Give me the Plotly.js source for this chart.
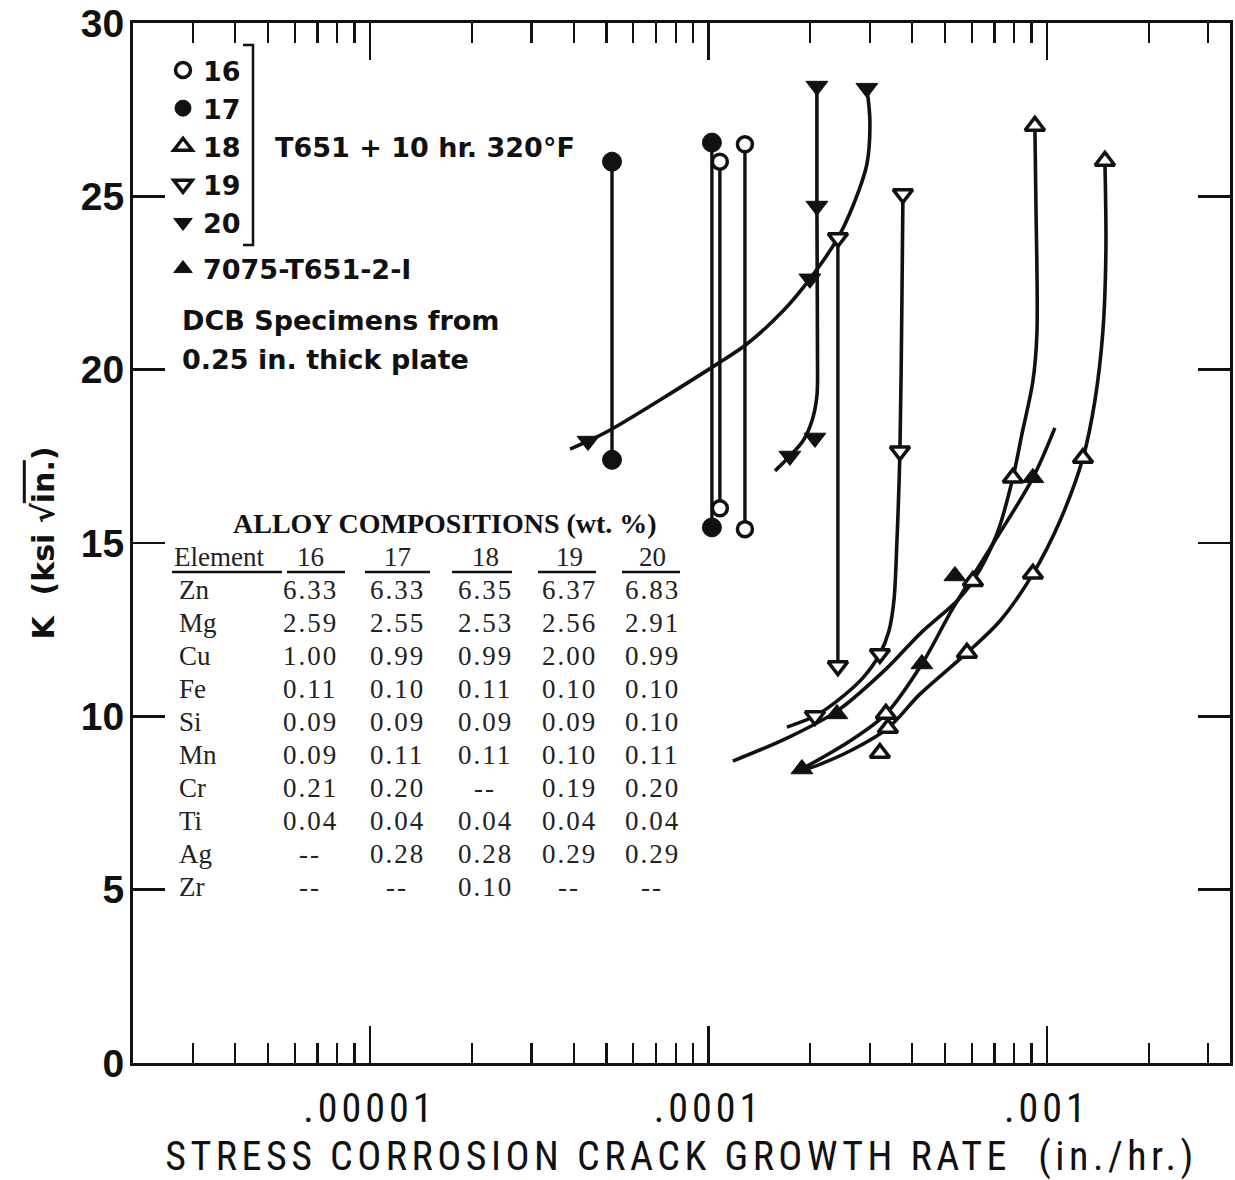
<!DOCTYPE html>
<html><head><meta charset="utf-8">
<script src="https://cdn.plot.ly/plotly-3.0.1.min.js"></script>
<style>body{margin:0;background:#fff}</style>
</head><body>
<div id="chart" style="width:1235px;height:1180px"></div>
<script>
// ---------- axis ticks ----------
const rateTickVals = [1e-5, 1e-4, 1e-3];
const rateTickText = ['.00001', '.0001', '.001'];
const kTickVals = [0, 5, 10, 15, 20, 25, 30];

// ---------- Specimen 16 (open circles) ----------
const s16a_rate = [1.081e-4, 1.081e-4];
const s16a_K    = [26.0, 16.0];
const s16b_rate = [1.282e-4, 1.282e-4];
const s16b_K    = [26.5, 15.4];

// ---------- Specimen 17 (filled circles) ----------
const s17a_rate = [5.19e-5, 5.19e-5];
const s17a_K    = [26.0, 17.4];
const s17b_rate = [1.024e-4, 1.024e-4];
const s17b_K    = [26.55, 15.45];

// ---------- Specimen 20 (filled down triangles) ----------
const s20a_rate = [3.90e-5, 4.41e-5, 5.19e-5, 1.06e-4, 1.299e-4, 1.660e-4, 1.995e-4, 2.413e-4, 2.672e-4, 2.939e-4, 3.000e-4, 2.939e-4];
const s20a_K    = [17.71, 17.94, 18.29, 20.16, 20.74, 21.69, 22.62, 23.80, 24.72, 25.93, 27.17, 28.12];
const s20b_rate = [2.092e-4, 2.092e-4, 2.100e-4, 2.092e-4, 2.022e-4, 1.902e-4, 1.741e-4, 1.573e-4];
const s20b_K    = [28.18, 24.72, 20.54, 19.24, 18.52, 17.94, 17.51, 17.08];
const s20pts_rate = [4.41e-5, 1.995e-4, 2.939e-4, 2.092e-4, 2.092e-4, 2.064e-4, 1.741e-4];
const s20pts_K    = [17.94, 22.62, 28.12, 28.18, 24.72, 18.03, 17.51];

// ---------- Specimen 19 (open down triangles) ----------
const s19a_rate = [2.413e-4, 2.413e-4];
const s19a_K    = [23.80, 11.45];
const s19b_rate = [3.756e-4, 3.730e-4, 3.680e-4, 3.606e-4, 3.532e-4, 3.414e-4, 3.211e-4, 2.860e-4, 2.397e-4, 2.064e-4, 1.706e-4];
const s19b_K    = [25.07, 21.98, 17.65, 15.06, 13.33, 12.46, 11.80, 11.11, 10.44, 10.01, 9.69];
const s19pts_rate = [2.413e-4, 2.413e-4, 3.756e-4, 3.680e-4, 3.211e-4, 2.064e-4];
const s19pts_K    = [23.80, 11.45, 25.07, 17.65, 11.80, 10.01];

// ---------- Specimen 18 (open up triangles) ----------
const s18a_rate = [9.216e-4, 9.28e-4, 9.344e-4, 9.093e-4, 8.438e-4, 7.934e-4, 7.118e-4, 6.046e-4, 5.422e-4, 4.216e-4, 3.368e-4, 2.397e-4, 1.706e-4, 1.181e-4];
const s18a_K    = [27.03, 24.86, 21.03, 19.67, 18.14, 16.88, 15.26, 13.90, 13.33, 12.38, 11.39, 10.15, 9.37, 8.71];
const s18b_rate = [1.484e-3, 1.494e-3, 1.464e-3, 1.386e-3, 1.278e-3, 1.092e-3, 9.093e-4, 7.265e-4, 5.804e-4, 4.216e-4, 3.391e-4, 2.618e-4, 1.995e-4, 1.889e-4];
const s18b_K    = [26.02, 23.42, 21.12, 19.10, 17.45, 15.63, 14.11, 12.75, 11.83, 10.64, 9.66, 9.00, 8.51, 8.48];
const s18pts_rate = [9.216e-4, 7.934e-4, 6.046e-4, 1.484e-3, 1.278e-3, 9.093e-4, 5.804e-4, 3.391e-4, 3.345e-4, 3.211e-4];
const s18pts_K    = [27.03, 16.88, 13.90, 26.02, 17.45, 14.11, 11.83, 9.66, 10.07, 8.94];

// ---------- 7075-T651-2-I (filled up triangles) ----------
const a7075_rate = [1.056e-3, 9.093e-4, 6.927e-4, 5.277e-4, 4.273e-4, 3.345e-4, 2.618e-4, 1.889e-4];
const a7075_K    = [18.32, 16.88, 14.97, 13.12, 11.51, 10.07, 9.29, 8.48];
const a7075pts_rate = [9.093e-4, 4.273e-4, 1.889e-4, 5.349e-4, 2.397e-4];
const a7075pts_K    = [16.88, 11.51, 8.48, 14.05, 10.07];

// ---------- Alloy composition table ----------
const tableTitle = 'ALLOY COMPOSITIONS (wt. %)';
const alloyIds = ['16', '17', '18', '19', '20'];
const elements = ['Zn', 'Mg', 'Cu', 'Fe', 'Si', 'Mn', 'Cr', 'Ti', 'Ag', 'Zr'];
const comp16 = ['6.33', '2.59', '1.00', '0.11', '0.09', '0.09', '0.21', '0.04', '--', '--'];
const comp17 = ['6.33', '2.55', '0.99', '0.10', '0.09', '0.11', '0.20', '0.04', '0.28', '--'];
const comp18 = ['6.35', '2.53', '0.99', '0.11', '0.09', '0.11', '--', '0.04', '0.28', '0.10'];
const comp19 = ['6.37', '2.56', '2.00', '0.10', '0.09', '0.10', '0.19', '0.04', '0.29', '--'];
const comp20 = ['6.83', '2.91', '0.99', '0.10', '0.10', '0.11', '0.20', '0.04', '0.29', '--'];

// ---------- helpers ----------
const BLK = '#111';
function lineTr(x, y, w) {
  return {type:'scatter', mode:'lines', x:x, y:y, showlegend:false, hoverinfo:'skip',
          line:{color:BLK, width:w || 3.6, shape:'spline', smoothing:0.9}};
}
function markTr(x, y, name, symbol, filled, group, size, show) {
  return {type:'scatter', mode:'markers', x:x, y:y, name:name, legendgroup:group,
          showlegend: show !== false, hoverinfo:'skip',
          marker:{symbol:symbol, size:size, color: filled ? BLK : '#fff',
                  line:{color:BLK, width: filled ? 1 : 3.5}}};
}

const traces = [
  lineTr(s17a_rate, s17a_K, 3.4), lineTr(s17b_rate, s17b_K, 3.4),
  lineTr(s16a_rate, s16a_K, 3.4), lineTr(s16b_rate, s16b_K, 3.4),
  lineTr(s20a_rate, s20a_K), lineTr(s20b_rate, s20b_K),
  lineTr(s19a_rate, s19a_K, 3.4), lineTr(s19b_rate, s19b_K),
  lineTr(s18a_rate, s18a_K), lineTr(s18b_rate, s18b_K),
  lineTr(a7075_rate, a7075_K),
  markTr(s16a_rate.concat(s16b_rate), s16a_K.concat(s16b_K), '16', 'circle', false, 'a', 15),
  markTr(s17a_rate.concat(s17b_rate), s17a_K.concat(s17b_K), '17', 'circle', true, 'a', 19),
  markTr(s18pts_rate, s18pts_K, '18', 'triangle-up', false, 'a', 17),
  markTr(s19pts_rate, s19pts_K, '19', 'triangle-down', false, 'a', 17),
  markTr(s20pts_rate, s20pts_K, '20', 'triangle-down', true, 'a', 19),
  markTr(a7075pts_rate, a7075pts_K, '7075-T651-2-I', 'triangle-up', true, 'b', 19)
];

// paper coordinate helpers (plot area 133..1230 x 23..1063 px)
const PX = p => (p - 133) / 1097;
const PY = p => (1063 - p) / 1040;

const annFont = {family:'DejaVu Sans, Liberation Sans, sans-serif', size:27, color:BLK, weight:'bold'};
const serif = {family:'Liberation Serif, DejaVu Serif, serif', size:27, color:'#222'};

const annotations = [
  {text:'T651 + 10 hr. 320°F', x:PX(273), y:PY(147), xanchor:'left', yanchor:'middle', font:annFont},
  {text:'DCB Specimens from', x:PX(180), y:PY(320), xanchor:'left', yanchor:'middle', font:annFont},
  {text:'0.25 in. thick plate', x:PX(180), y:PY(360), xanchor:'left', yanchor:'middle', font:annFont},
  {text:tableTitle, x:PX(445), y:PY(523), xanchor:'center', yanchor:'middle', font:Object.assign({}, serif, {size:28, weight:'bold', color:BLK})},
  {text:'Element', x:PX(172), y:PY(557), xanchor:'left', yanchor:'middle', font:serif}
];
const colX = [310, 397, 485, 569, 652];
const comps = [comp16, comp17, comp18, comp19, comp20];
alloyIds.forEach((id, j) => annotations.push({text:id, x:PX(colX[j]), y:PY(557), xanchor:'center', yanchor:'middle', font:serif}));
elements.forEach((el, i) => {
  const yy = PY(590 + 33 * i);
  annotations.push({text:el, x:PX(177), y:yy, xanchor:'left', yanchor:'middle', font:serif});
  comps.forEach((c, j) => annotations.push({text:'<span style="letter-spacing:2px">' + c[i] + '</span>', x:PX(colX[j]), y:yy, xanchor:'center', yanchor:'middle', font:serif}));
});
annotations.forEach(a => { a.xref = 'paper'; a.yref = 'paper'; a.showarrow = false; });

const ulSegs = [[172, 282], [287, 345], [365, 430], [452, 512], [538, 596], [622, 680]];
const shapes = ulSegs.map(s => ({type:'line', xref:'paper', yref:'paper', x0:PX(s[0]), x1:PX(s[1]), y0:PY(572), y1:PY(572), line:{color:BLK, width:2.5}}));
shapes.push({type:'path', xref:'paper', yref:'paper',
  path:'M ' + PX(243) + ' ' + PY(45) + ' L ' + PX(253) + ' ' + PY(45) + ' L ' + PX(253) + ' ' + PY(245) + ' L ' + PX(243) + ' ' + PY(245),
  line:{color:BLK, width:2.5}});

const narrow = 'Liberation Sans Narrow, Roboto Condensed, DejaVu Sans Condensed, Liberation Sans, sans-serif';
const spaced = (t, px) => '<span style="letter-spacing:' + px + 'px">' + t + '</span>';

const layout = {
  width:1235, height:1180,
  margin:{l:133, r:5, t:23, b:117},
  paper_bgcolor:'#fff', plot_bgcolor:'#fff',
  font:{color:BLK},
  showlegend:true,
  legend:{x:PX(163), y:PY(46), xanchor:'left', yanchor:'top', bgcolor:'rgba(0,0,0,0)', borderwidth:0,
          traceorder:'grouped', tracegroupgap:8, itemwidth:30,
          font:{family:'DejaVu Sans, Liberation Sans, sans-serif', size:27, color:BLK, weight:'bold'}},
  xaxis:{type:'log', range:[-5.70, -2.459], tickvals:rateTickVals, ticktext:rateTickText.map(t => spaced(t, 4)),
         ticks:'inside', ticklen:37, tickwidth:2.5, tickcolor:BLK,
         showline:true, linewidth:3, linecolor:BLK, mirror:'allticks', showgrid:false, zeroline:false,
         minor:{ticks:'inside', ticklen:20, tickwidth:2.2, tickcolor:BLK, dtick:'D1', showgrid:false},
         tickfont:{family:narrow, size:40, color:BLK}, ticklabelstandoff:8,
         title:{text:spaced('STRESS CORROSION CRACK GROWTH RATE  (in./hr.)', 4.5), standoff:14,
                font:{family:narrow, size:40, color:BLK}}},
  yaxis:{range:[0, 30], tickvals:kTickVals,
         ticks:'inside', ticklen:32, tickwidth:2.5, tickcolor:BLK,
         showline:true, linewidth:3, linecolor:BLK, mirror:'allticks', showgrid:false, zeroline:false,
         tickfont:{family:'Liberation Sans, Arial, sans-serif', size:39, color:BLK, weight:'bold'},
         ticklabelstandoff:-2, ticklabeloverflow:'allow',
         title:{text:'K  (ksi √<span style="text-decoration:overline">in.</span>)', standoff:18,
                font:{family:'DejaVu Sans, Liberation Sans, sans-serif', size:30, color:BLK, weight:'bold'}}},
  annotations:annotations,
  shapes:shapes
};

Plotly.newPlot('chart', traces, layout, {displayModeBar:false, staticPlot:true});
</script>
</body></html>
